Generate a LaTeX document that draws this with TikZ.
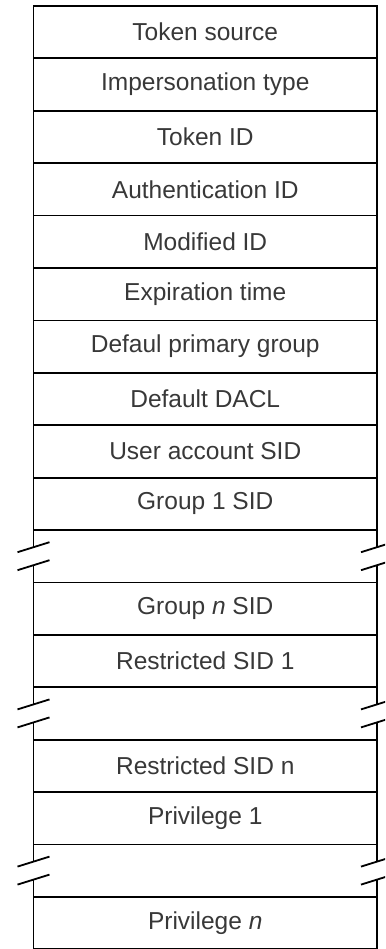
\documentclass[tikz,border=0pt]{standalone}
\usepackage{fontspec}
\setmainfont{Liberation Sans}
\usetikzlibrary{calc}
\begin{document}
\begin{tikzpicture}[x=1pt,y=-1pt,
  rowbox/.style={draw=black, line width=1.8pt, minimum width=343.5pt, minimum height=52.4pt,
    inner sep=0pt, outer sep=0pt, font=\fontsize{24.5}{26}\selectfont, text=black!78},
  gaprow/.style={minimum width=343.5pt, minimum height=52.4pt, inner sep=0pt, outer sep=0pt},
  border/.style={draw=black, line width=1.8pt},
  slash/.style={draw=black, line width=1.8pt}]
\useasboundingbox (0,0) rectangle (385,949);
\clip (0,0) rectangle (385,949);
\def\cx{205.25}
\node[rowbox] (r0)  at (\cx, 32.2)  {Token source};
\node[rowbox] (r1)  at (\cx, 84.6)  {Impersonation type};
\node[rowbox] (r2)  at (\cx, 137.0) {Token ID};
\node[rowbox] (r3)  at (\cx, 189.4) {Authentication ID};
\node[rowbox] (r4)  at (\cx, 241.8) {Modified ID};
\node[rowbox] (r5)  at (\cx, 294.2) {Expiration time};
\node[rowbox] (r6)  at (\cx, 346.6) {Defaul primary group};
\node[rowbox] (r7)  at (\cx, 399.0) {Default DACL};
\node[rowbox] (r8)  at (\cx, 451.4) {User account SID};
\node[rowbox] (r9)  at (\cx, 503.8) {Group 1 SID};
\node[gaprow] (b1)  at (\cx, 556.2) {};
\node[rowbox] (r11) at (\cx, 608.6) {Group \textit{n} SID};
\node[rowbox] (r12) at (\cx, 661.0) {Restricted SID 1};
\node[gaprow] (b2)  at (\cx, 713.4) {};
\node[rowbox] (r14) at (\cx, 765.8) {Restricted SID n};
\node[rowbox] (r15) at (\cx, 818.2) {Privilege 1};
\node[gaprow] (b3)  at (\cx, 870.6) {};
\node[rowbox] (r17) at (\cx, 923.0) {Privilege \textit{n}};
\foreach \b in {b1,b2,b3}{
  \coordinate (\b-lu) at ($(\b.west)+(0pt,9pt)$);
  \coordinate (\b-ll) at ($(\b.west)+(0pt,-9pt)$);
  \coordinate (\b-ru) at ($(\b.east)+(0pt,9pt)$);
  \coordinate (\b-rl) at ($(\b.east)+(0pt,-9pt)$);
  \path[border] (\b.north west) -- (\b-lu) (\b-ll) -- (\b.south west);
  \path[border] (\b.north east) -- (\b-ru) (\b-rl) -- (\b.south east);
  \path[slash] ($(\b-lu)+(-16pt,-5pt)$) -- ($(\b-lu)+(16pt,5pt)$);
  \path[slash] ($(\b-ll)+(-16pt,-5pt)$) -- ($(\b-ll)+(16pt,5pt)$);
  \path[slash] ($(\b-ru)+(-16pt,-5pt)$) -- ($(\b-ru)+(16pt,5pt)$);
  \path[slash] ($(\b-rl)+(-16pt,-5pt)$) -- ($(\b-rl)+(16pt,5pt)$);
}
\end{tikzpicture}
\end{document}
